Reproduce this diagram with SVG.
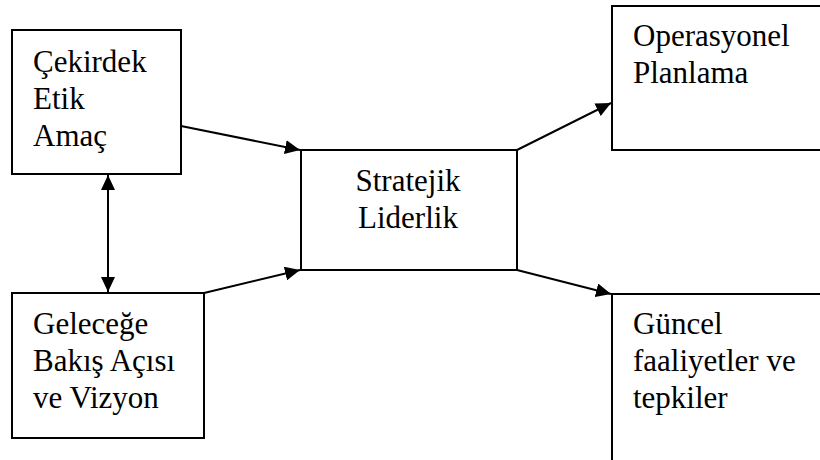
<svg xmlns="http://www.w3.org/2000/svg" width="820" height="460" viewBox="0 0 820 460">
<style>
.box{fill:#fff;stroke:#000;stroke-width:2}
.c{stroke:#000;stroke-width:2;fill:none}
</style>
<defs>
<marker id="ah" markerUnits="userSpaceOnUse" markerWidth="16" markerHeight="14" refX="15" refY="7" orient="auto-start-reverse">
<path d="M0,0 L15,7 L0,14 Z" fill="#000"/>
</marker>
</defs>
<rect width="820" height="460" fill="#fff"/>
<g font-family="'Liberation Serif', 'Times New Roman', 'DejaVu Serif', serif" font-size="31" fill="#000">
<g id="n1">
<rect class="box" x="12" y="30" width="169" height="144"/>
<text x="33" y="72">Çekirdek</text>
<text x="33" y="109">Etik</text>
<text x="33" y="146">Amaç</text>
</g>
<g id="n2">
<rect class="box" x="12" y="293" width="192" height="145"/>
<text x="33" y="334">Geleceğe</text>
<text x="33" y="371">Bakış Açısı</text>
<text x="33" y="408">ve Vizyon</text>
</g>
<g id="n3">
<rect class="box" x="301" y="150" width="216" height="120"/>
<text x="408" y="191" text-anchor="middle">Stratejik</text>
<text x="408" y="228" text-anchor="middle">Liderlik</text>
</g>
<g id="n4">
<rect class="box" x="612" y="6" width="220" height="144"/>
<text x="633" y="46">Operasyonel</text>
<text x="633" y="83">Planlama</text>
</g>
<g id="n5">
<rect class="box" x="612" y="294" width="220" height="180"/>
<text x="633" y="334">Güncel</text>
<text x="633" y="371">faaliyetler ve</text>
<text x="633" y="408">tepkiler</text>
</g>
</g>
<g id="connectors">
<line class="c" x1="108" y1="175" x2="108" y2="292" marker-start="url(#ah)" marker-end="url(#ah)"/>
<line class="c" x1="181" y1="126" x2="300" y2="150" marker-end="url(#ah)"/>
<line class="c" x1="204" y1="293" x2="300" y2="270" marker-end="url(#ah)"/>
<line class="c" x1="517" y1="150" x2="611" y2="103" marker-end="url(#ah)"/>
<line class="c" x1="517" y1="270" x2="611" y2="294" marker-end="url(#ah)"/>
</g>
</svg>
